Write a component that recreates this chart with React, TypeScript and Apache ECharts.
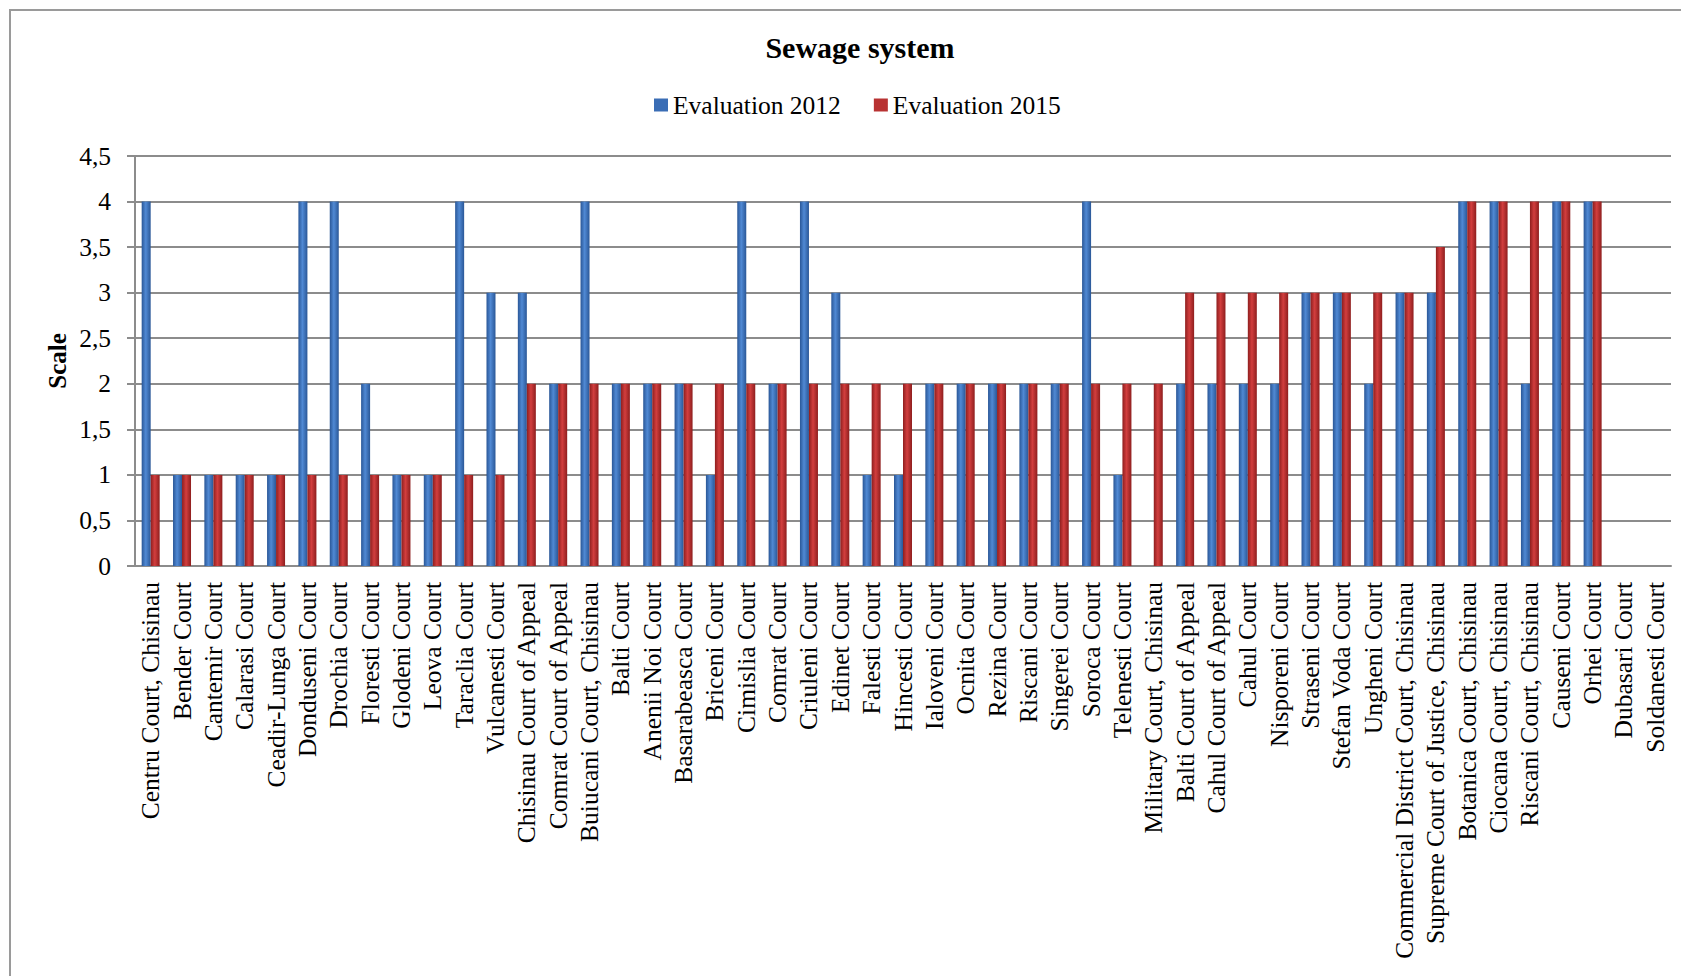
import React, { useEffect, useRef } from "react";
import * as echarts from "echarts";

const categories: string[] = [
  "Centru Court, Chisinau",
  "Bender Court",
  "Cantemir Court",
  "Calarasi Court",
  "Ceadir-Lunga Court",
  "Donduseni Court",
  "Drochia Court",
  "Floresti Court",
  "Glodeni Court",
  "Leova Court",
  "Taraclia Court",
  "Vulcanesti Court",
  "Chisinau Court of Appeal",
  "Comrat Court of Appeal",
  "Buiucani Court, Chisinau",
  "Balti Court",
  "Anenii Noi Court",
  "Basarabeasca Court",
  "Briceni Court",
  "Cimislia Court",
  "Comrat Court",
  "Criuleni Court",
  "Edinet Court",
  "Falesti Court",
  "Hincesti Court",
  "Ialoveni Court",
  "Ocnita Court",
  "Rezina Court",
  "Riscani Court",
  "Singerei Court",
  "Soroca Court",
  "Telenesti Court",
  "Military Court, Chisinau",
  "Balti Court of Appeal",
  "Cahul Court of Appeal",
  "Cahul Court",
  "Nisporeni Court",
  "Straseni Court",
  "Stefan Voda Court",
  "Ungheni Court",
  "Commercial District Court, Chisinau",
  "Supreme Court of Justice, Chisinau",
  "Botanica Court, Chisinau",
  "Ciocana Court, Chisinau",
  "Riscani Court, Chisinau",
  "Causeni Court",
  "Orhei Court",
  "Dubasari Court",
  "Soldanesti Court",
];

const evaluation2012: (number | null)[] = [
  4, 1, 1, 1, 1, 4, 4, 2, 1, 1, 4, 3, 3, 2, 4, 2, 2, 2, 1, 4, 2, 4, 3, 1, 1,
  2, 2, 2, 2, 2, 4, 1, null, 2, 2, 2, 2, 3, 3, 2, 3, 3, 4, 4, 2, 4, 4, null, null,
];

const evaluation2015: (number | null)[] = [
  1, 1, 1, 1, 1, 1, 1, 1, 1, 1, 1, 1, 2, 2, 2, 2, 2, 2, 2, 2, 2, 2, 2, 2, 2,
  2, 2, 2, 2, 2, 2, 2, 2, 3, 3, 3, 3, 3, 3, 3, 3, 3.5, 4, 4, 4, 4, 4, null, null,
];

const seriesNames = ["Evaluation 2012", "Evaluation 2015"];
const yTicks = { min: 0, max: 4.5, interval: 0.5 };

const FONT = "'Liberation Serif', 'Times New Roman', serif";

function cyl(edge: string, mid: string) {
  return new echarts.graphic.LinearGradient(0, 0, 1, 0, [
    { offset: 0, color: edge },
    { offset: 0.45, color: mid },
    { offset: 1, color: edge },
  ]);
}

export default function App() {
  const ref = useRef<HTMLDivElement>(null);

  useEffect(() => {
    if (!ref.current) return;
    const chart = echarts.init(ref.current, undefined, { renderer: "svg" });
    const gridColor = "#8c8c8c";
    chart.setOption({
      animation: false,
      backgroundColor: "#ffffff",
      textStyle: { fontFamily: FONT, color: "#000" },
      title: {
        text: "Sewage system",
        left: 855,
        top: 27,
        textAlign: "center",
        textStyle: {
          fontFamily: FONT,
          fontWeight: "bold",
          fontSize: 30,
          color: "#000",
        },
      },
      legend: {
        left: 649,
        top: 87,
        itemWidth: 14,
        itemHeight: 13,
        itemGap: 33,
        icon: "rect",
        textStyle: { fontFamily: FONT, fontSize: 25.5, color: "#000" },
        data: [
          { name: seriesNames[0], itemStyle: { color: "#3a6db5" } },
          { name: seriesNames[1], itemStyle: { color: "#b83232" } },
        ],
      },
      grid: { left: 135, right: 10, top: 156, bottom: 410, containLabel: false },
      xAxis: {
        type: "category",
        data: categories,
        axisLine: { show: true, lineStyle: { color: gridColor, width: 2 } },
        axisTick: { show: false },
        axisLabel: {
          interval: 0,
          rotate: 90,
          margin: 16,
          fontFamily: FONT,
          fontSize: 25.5,
          color: "#000",
        },
      },
      yAxis: {
        type: "value",
        min: yTicks.min,
        max: yTicks.max,
        interval: yTicks.interval,
        axisLine: { show: true, lineStyle: { color: gridColor, width: 2 } },
        axisTick: { show: true, length: 8, lineStyle: { color: gridColor, width: 2 } },
        splitLine: { show: true, lineStyle: { color: gridColor, width: 2 } },
        axisLabel: {
          margin: 24,
          fontFamily: FONT,
          fontSize: 25.5,
          color: "#000",
          formatter: (v: number) => String(v).replace(".", ","),
        },
      },
      graphic: [
        {
          type: "rect",
          silent: true,
          shape: { x: 10, y: 10, width: 1700, height: 1000 },
          style: { fill: "none", stroke: "#9a9a9a", lineWidth: 2 },
        },
        {
          type: "text",
          x: 57,
          y: 361,
          rotation: Math.PI / 2,
          style: {
            text: "Scale",
            fontFamily: FONT,
            fontWeight: "bold",
            fontSize: 25,
            fill: "#000",
            textAlign: "center",
            textVerticalAlign: "middle",
          },
        },
      ],
      series: [
        {
          name: seriesNames[0],
          type: "bar",
          data: evaluation2012,
          barWidth: 9,
          barGap: "0%",
          itemStyle: { color: cyl("#2a5797", "#5089d4") },
        },
        {
          name: seriesNames[1],
          type: "bar",
          data: evaluation2015,
          barWidth: 9,
          barGap: "0%",
          itemStyle: { color: cyl("#8e1e1e", "#d23e3e") },
        },
      ],
    });
    return () => chart.dispose();
  }, []);

  return (
    <div
      ref={ref}
      style={{ position: "absolute", left: 0, top: 0, width: 1681, height: 976 }}
    />
  );
}
